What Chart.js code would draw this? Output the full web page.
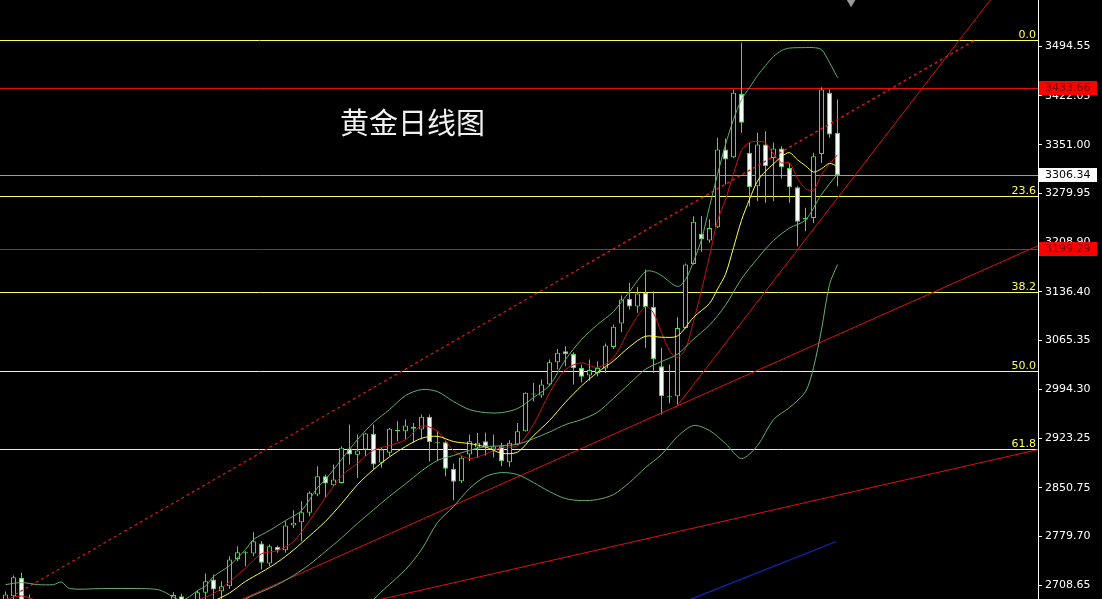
<!DOCTYPE html>
<html>
<head>
<meta charset="utf-8">
<title>黄金日线图</title>
<script src="https://cdn.jsdelivr.net/npm/chart.js@4.4.1/dist/chart.umd.min.js"></script>
<style>
  html, body { margin: 0; padding: 0; background: #000; }
  canvas { display: block; }
</style>
</head>
<body>
<canvas id="goldChart" width="1102" height="599"></canvas>
<script>
// 日线K线数据（按顺序，每根一个）
const opens = [2683.4,2692.6,2719.4,2684.0,2670,2660,2645,2655,2650,2632,
  2640,2650,2660,2648,2655,2662,2670,2658,2665,2672,
  2668,2686.3,2692.6,2686.0,2682.0,2697.6,2716.9,2699.9,2707.2,2747.1,
  2756.8,2754.9,2769.4,2740.3,2764.6,2759.7,2795.7,2800.5,2814.2,2840.9,
  2867.6,2854.4,2857.9,2908.0,2898.8,2906.5,2929.4,2887.1,2901.7,2935.0,
  2933.2,2939.6,2935.6,2954.2,2917.2,2917.1,2878.4,2860.3,2899.2,2909.4,
  2918.6,2906.5,2911.3,2888.0,2913.8,2933.2,2988.2,2985.2,3001.3,3033.8,
  3049.8,3046.0,3025.6,3014.4,3018.3,3024.6,3056.2,3090.2,3126.2,3115.0,
  3134.9,3114.3,3027.9,2984.2,2984.2,3083.9,3177.2,3221.0,3211.2,3230.6,
  3343.9,3332.7,3425.1,3339.1,3290.4,3351.2,3331.8,3345.4,3317.2,3288.9,
  3241.9,3244.3,3337.6,3426.6,3368.3];
const highs = [2699.4,2722.8,2726.7,2695.0,2680,2668,2660,2670,2662,2645,
  2655,2668,2675,2660,2670,2678,2682,2672,2680,2684,
  2682,2698.4,2696.1,2688.0,2700.9,2725.7,2724.2,2714.5,2750.9,2765.5,
  2758.2,2785.9,2772.8,2768.0,2766.5,2802.0,2818.0,2831.1,2845.7,2882.1,
  2870.0,2884.6,2911.3,2943.0,2928.4,2930.8,2943.0,2909.0,2938.1,2947.8,
  2950.2,2945.4,2957.5,2957.5,2933.2,2918.6,2886.1,2896.7,2928.4,2930.8,
  2931.3,2928.4,2916.3,2920.0,2945.4,2990.0,3003.8,3008.6,3037.7,3053.3,
  3057.1,3048.4,3030.4,3037.7,3035.2,3061.0,3088.7,3131.0,3149.6,3143.7,
  3168.9,3137.3,3054.8,3030.4,3099.4,3177.7,3246.7,3246.7,3241.9,3361.0,
  3359.9,3431.4,3500.0,3353.7,3368.3,3370.6,3354.1,3348.7,3324.5,3290.4,
  3258.9,3339.1,3434.8,3431.4,3416.8];
const lows = [2675.0,2685.0,2672.0,2660.0,2655,2640,2630,2640,2625,2615,
  2630,2638,2645,2630,2640,2650,2652,2645,2655,2660,
  2658,2680.0,2678.0,2668.0,2676.0,2686.3,2684.0,2688.0,2703.4,2743.6,
  2736.3,2750.9,2731.5,2736.3,2755.9,2755.9,2792.3,2772.8,2809.2,2838.4,
  2836.1,2852.1,2856.9,2884.6,2865.2,2896.7,2877.3,2879.8,2896.7,2918.6,
  2921.1,2916.3,2921.1,2889.0,2889.4,2867.6,2832.6,2857.9,2889.4,2894.4,
  2897.8,2894.8,2882.1,2881.3,2912.4,2932.7,2976.5,2981.9,2998.8,3023.1,
  3027.9,3001.3,3004.6,3007.1,3013.4,3018.3,3053.3,3077.5,3110.6,3105.8,
  3054.8,3018.3,2957.5,2973.6,2972.1,3082.9,3176.2,3194.8,3207.9,3229.7,
  3292.9,3331.8,3368.3,3261.2,3268.5,3266.2,3268.5,3301.6,3266.2,3202.9,
  3224.8,3237.0,3324.5,3361.0,3290.4];
const closes = [2695.0,2720.3,2680.0,2670.0,2660,2645,2655,2650,2632,2640,
  2650,2660,2648,2655,2662,2670,2658,2665,2672,2668,
  2675,2694.3,2686.0,2681.0,2698.4,2714.5,2702.4,2707.2,2746.1,2756.8,
  2755.3,2772.8,2741.3,2765.5,2759.7,2795.7,2799.6,2815.1,2843.4,2867.6,
  2856.9,2862.8,2909.0,2899.2,2905.0,2929.8,2884.6,2906.5,2936.7,2933.5,
  2941.5,2936.7,2954.2,2917.4,2915.7,2878.4,2859.4,2894.4,2918.6,2916.3,
  2911.3,2910.9,2889.4,2916.3,2933.2,2989.2,2986.7,3001.3,3033.8,3047.5,
  3046.0,3024.9,3012.5,3022.4,3025.6,3058.1,3085.4,3125.2,3115.0,3133.9,
  3114.3,3038.7,2984.2,2982.7,3083.9,3176.2,3238.5,3212.7,3229.7,3343.9,
  3329.3,3426.6,3382.9,3288.9,3351.2,3319.6,3345.4,3318.1,3288.9,3238.5,
  3244.0,3334.2,3431.4,3365.8,3306.34];

// 均线与布林带（[K线序号, 价格]）
const maRed = [[0,2688],[2,2693],[4,2685],[6,2662],[8,2648.4],[10,2645.4],[12,2646],[14,2655],[16,2658.6],[18,2665.4],
  [20,2667.6],[22,2679.1],[24,2686.9],[26,2696.5],[28,2713.7],[30,2733.7],[32,2754.6],[34,2759.1],[36,2772.4],[38,2802.7],
  [40,2836.5],[42,2867.9],[44,2886.6],[46,2905.5],[48,2912.5],[50,2920.7],[52,2940.7],[54,2933.3],[56,2905.2],[58,2893.5],
  [60,2900.0],[62,2909.3],[64,2912.2],[66,2943.1],[68,2989.0],[70,3023.2],[72,3032.9],[74,3026.3],[76,3040.8],[78,3081.9],
  [80,3114.8],[81,3105.4],[82,3077.2],[83,3050.9],[84,3040.9],[85,3053.3],[86,3093.3],[87,3139.0],[88,3188.2],[89,3240.2],
  [90,3270.8],[91,3308.4],[92,3342.5],[93,3354.3],[94,3355.8],[95,3353.8],[96,3337.6],[97,3324.6],[98,3324.6],[99,3302.1],
  [100,3287.0],[101,3284.7],[102,3307.4],[103,3322.8],[104,3336.3]];
const maYellow = [[20,2663.3],[22,2670.5],[24,2676.8],[26,2685.7],[28,2697.3],[30,2714.3],[32,2727.7],[34,2742.2],[36,2760.1],[38,2780.6],
  [40,2801.8],[42,2827.5],[44,2855.4],[46,2877.3],[48,2895.8],[50,2910.9],[52,2922.9],[54,2925.8],[56,2918.2],[58,2915.2],
  [60,2910.3],[62,2901.3],[64,2902.8],[66,2926.7],[68,2948.9],[70,2975.5],[72,2999.2],[74,3019.1],[76,3035.8],[78,3056.3],
  [80,3071.7],[82,3070.3],[84,3072.2],[86,3099.3],[88,3119.6],[89,3140.6],[90,3162.1],[91,3200.9],[92,3240.7],[93,3271.3],
  [94,3298.0],[95,3312.3],[96,3323.0],[97,3333.6],[98,3339.5],[99,3328.9],[100,3320.4],[101,3311.2],[102,3316.0],[103,3323.7],
  [104,3319.2]];
const bandMid = [[20,2661.8],[22,2660.8],[24,2663.2],[26,2669.1],[28,2677.6],[30,2688.8],[32,2699.1],[34,2709.5],[36,2722.9],[38,2738.9],
  [40,2758.0],[42,2777.6],[44,2798.8],[46,2818.7],[48,2838.2],[50,2856.4],[52,2875.2],[54,2890.6],[56,2897.8],[58,2905.5],
  [60,2910.6],[62,2912.1],[64,2914.3],[66,2922.4],[68,2932.0],[70,2942.9],[72,2950.2],[74,2960.9],[76,2981.2],[78,3002.6],
  [80,3023.6],[82,3034.8],[84,3045.6],[86,3067.5],[88,3087.9],[90,3116.9],[92,3155.5],[94,3185.1],[96,3211.2],[98,3229.5],
  [100,3241.2],[102,3278.4],[104,3308.6]];
const bandUpper = [[0,2709.6],[2,2712.6],[4,2709.6],[6,2709.6],[7,2713.3],[8,2703.8],[12,2703.8],[17,2703.8],[19,2702.4],[20,2698.0],
  [21,2691.4],[22,2686.3],[23,2692.1],[24,2700.9],[25,2707.2],[26,2721.3],[28,2737.3],[30,2760.7],[31,2775.3],[33,2788.4],
  [35,2803.0],[37,2817.5],[39,2851.1],[40,2862.8],[42,2891.9],[44,2921.1],[46,2945.9],[48,2964.8],[50,2985.2],[52,2994.0],
  [54,2991.0],[56,2976.5],[58,2964.8],[60,2960.4],[62,2960.4],[64,2966.3],[66,2982.3],[68,3000.2],[70,3037.7],[72,3066.9],
  [74,3088.7],[76,3107.7],[78,3136.9],[80,3166.0],[81,3166.0],[82,3160.2],[84,3144.2],[85,3154.3],[86,3180.6],[87,3212.7],
  [88,3260.8],[89,3307.5],[90,3351.2],[91,3387.7],[92,3416.8],[93,3434.3],[94,3451.8],[95,3466.4],[96,3479.5],[97,3488.3],
  [98,3491.9],[100,3492.6],[101,3492.6],[102,3489.7],[103,3470.8],[104,3448.9]];
const bandLower = [[42,2629.5],[46,2687.8],[50,2731.5],[52,2760.7],[54,2800.0],[56,2823.4],[58,2849.6],[60,2867.1],[62,2872.9],[64,2870.0],
  [66,2858.4],[68,2845.2],[70,2835.0],[72,2832.1],[74,2833.6],[76,2840.9],[78,2858.4],[80,2880.2],[82,2899.2],[84,2925.4],
  [86,2941.5],[88,2934.2],[90,2915.2],[92,2893.4],[94,2912.3],[96,2950.2],[98,2967.7],[100,2991.0],[101,3026.0],[102,3081.5],
  [103,3147.1],[104,3176.2]];

// 画线：趋势线端点 [K线序号, 价格]
const trendDashed = [[1.2,2695.1],[121.2,3503.6]];
const trendSteep = [[83.7,2966.3],[123.1,3562.0]];
const trendMid = [[28.1,2680.5],[129.1,3203.9]];
const trendLow = [[46.8,2687.8],[129.1,2906.5]];
const trendBlue = [[85.6,2687.8],[103.8,2772.3]];

// 水平线与刻度
const fibLevels = [3504.3, 3276.5, 3135.6, 3021.7, 2907.8];
const fibLabels = ['0.0', '23.6', '38.2', '50.0', '61.8'];
const redLevels = [3433.66, 3199.29];
const lastPrice = 3306.34;
const yTicks = [3494.55, 3422.05, 3351.00, 3279.95, 3208.90, 3136.40, 3065.35, 2994.30, 2923.25, 2850.75, 2779.70, 2708.65];
const marker = [[105.7, 3560.0]];

const GREEN = '#2cf02c';
const toXY = arr => arr.map(p => ({x: p[0], y: p[1]}));

function lineSet(points, color, extra) {
  return Object.assign({
    type: 'line',
    data: toXY(points),
    borderColor: color,
    borderWidth: 1,
    pointRadius: 0,
    tension: 0.3,
    fill: false,
    order: 0
  }, extra || {});
}

const wickData = highs.map((h, i) => ({x: i, y: [lows[i], h]}));
const bodyData = opens.map((o, i) => ({x: i, y: [o, closes[i]]}));
const bodyFill = opens.map((o, i) => {
  if (Math.abs(closes[i] - o) < 2.5) return GREEN;
  return closes[i] > o ? '#000000' : '#f6fff6';
});

const overlay = {
  id: 'overlay',
  beforeDraw(chart) {
    const ctx = chart.ctx;
    ctx.save();
    ctx.fillStyle = '#000';
    ctx.fillRect(0, 0, chart.width, chart.height);
    ctx.restore();
  },
  beforeDatasetsDraw(chart) {
    const {ctx, chartArea} = chart;
    const y = chart.scales.y;
    ctx.save();
    ctx.lineWidth = 1;
    const hline = (v, color) => {
      const py = Math.round(y.getPixelForValue(v)) + 0.5;
      ctx.strokeStyle = color;
      ctx.beginPath();
      ctx.moveTo(chartArea.left, py);
      ctx.lineTo(chartArea.right, py);
      ctx.stroke();
    };
    fibLevels.forEach(v => hline(v, '#ffff55'));
    redLevels.forEach(v => hline(v, '#e01010'));
    hline(lastPrice, '#9c9ca6');
    ctx.restore();
  },
  afterDraw(chart) {
    const {ctx, chartArea} = chart;
    const y = chart.scales.y;
    ctx.save();
    // 斐波那契标签
    ctx.font = '11px "DejaVu Sans"';
    ctx.fillStyle = '#ffff55';
    ctx.textAlign = 'right';
    ctx.textBaseline = 'alphabetic';
    fibLevels.forEach((v, i) => {
      ctx.fillText(fibLabels[i], chartArea.right - 2, Math.round(y.getPixelForValue(v)) - 2);
    });
    // 价格框
    const box = (v, bg, fg) => {
      const py = y.getPixelForValue(v);
      ctx.fillStyle = bg;
      ctx.fillRect(chartArea.right + 1, Math.round(py) - 7, 58, 14);
      ctx.fillStyle = fg;
      ctx.textAlign = 'left';
      ctx.textBaseline = 'middle';
      ctx.fillText(v.toFixed(2), chartArea.right + 7, py);
    };
    box(redLevels[0], '#ff0000', '#7a0000');
    box(lastPrice, '#ffffff', '#000000');
    box(redLevels[1], '#ff0000', '#7a0000');
    // 标题
    ctx.font = '29px "Noto Sans CJK SC"';
    ctx.fillStyle = '#f0f0f0';
    ctx.textAlign = 'left';
    ctx.textBaseline = 'middle';
    ctx.fillText('黄金日线图', 340, 123);
    ctx.restore();
  }
};

Chart.defaults.font.family = '"DejaVu Sans", sans-serif';

new Chart(document.getElementById('goldChart'), {
  type: 'bar',
  data: {
    datasets: [
      lineSet(bandUpper, '#62b072'),
      lineSet(bandMid, '#62b072'),
      lineSet(bandLower, '#62b072'),
      lineSet(maYellow, '#ffff44'),
      lineSet(maRed, '#c81414'),
      lineSet(trendDashed, '#e01818', {tension: 0, borderWidth: 1.3, borderDash: [3, 3]}),
      lineSet(trendSteep, '#e01010', {tension: 0}),
      lineSet(trendMid, '#e01010', {tension: 0}),
      lineSet(trendLow, '#e01010', {tension: 0}),
      lineSet(trendBlue, '#1020a0', {tension: 0, borderWidth: 1.5}),
      lineSet(marker, '#9a9a9a', {showLine: false, pointRadius: 6, pointStyle: 'triangle', rotation: 180,
        pointBackgroundColor: '#9a9a9a', pointBorderWidth: 0}),
      {
        type: 'bar',
        data: bodyData,
        backgroundColor: bodyFill,
        borderColor: GREEN,
        borderWidth: 1,
        borderSkipped: false,
        barThickness: 5,
        grouped: false,
        inflateAmount: 0,
        order: 1
      },
      {
        type: 'bar',
        data: wickData,
        backgroundColor: GREEN,
        borderWidth: 0,
        barThickness: 1,
        grouped: false,
        inflateAmount: 0,
        order: 2
      }
    ]
  },
  options: {
    responsive: false,
    animation: false,
    devicePixelRatio: 1,
    events: [],
    layout: {padding: 0, autoPadding: false},
    plugins: {legend: {display: false}, tooltip: {enabled: false}},
    scales: {
      x: {
        type: 'linear',
        offset: false,
        min: -0.6875,
        max: 129.0625,
        display: false
      },
      y: {
        type: 'linear',
        position: 'right',
        min: 2688.6,
        max: 3562.0,
        afterBuildTicks: scale => { scale.ticks = yTicks.map(v => ({value: v})); },
        afterFit: scale => { scale.width = 64; scale.paddingTop = 0; scale.paddingBottom = 0; },
        border: {display: true, color: '#ffffff', width: 1},
        grid: {display: true, drawOnChartArea: false, drawTicks: true, tickLength: 4, color: '#ffffff'},
        ticks: {
          color: '#ffffff',
          padding: 3,
          autoSkip: false,
          font: {size: 11},
          callback: v => Number(v).toFixed(2)
        }
      }
    }
  },
  plugins: [overlay]
});
</script>
</body>
</html>
